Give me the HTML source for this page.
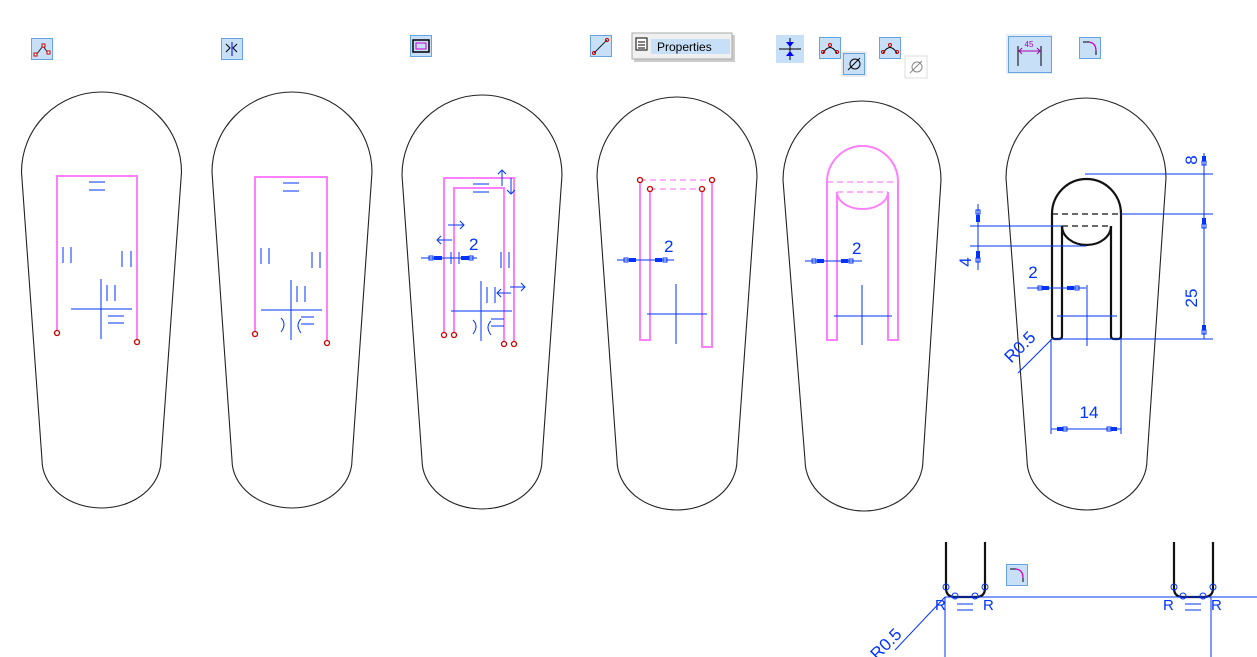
<!DOCTYPE html>
<html><head><meta charset="utf-8"><style>
html,body{margin:0;padding:0;background:#fff;}
svg{display:block;font-family:"Liberation Sans",sans-serif;}
</style></head><body>
<svg width="1257" height="657" viewBox="0 0 1257 657" xmlns="http://www.w3.org/2000/svg">
<defs>
<g id="ic"><rect x="0.5" y="0.5" width="21" height="21" fill="#c7e0f7" stroke="#66a3e0"/></g>
</defs>
<!-- toolbar icons -->
<use href="#ic" x="31" y="38"/>
<polyline points="36,55 43,46 48,53" fill="none" stroke="#222" stroke-width="1"/>
<rect x="34" y="53" width="3" height="3" fill="#fff" stroke="#c00"/><rect x="42" y="44" width="3" height="3" fill="#fff" stroke="#c00"/><rect x="47" y="51" width="3" height="3" fill="#fff" stroke="#c00"/>
<use href="#ic" x="221" y="38"/>
<path d="M226,44 l4,4 -4,4 M237,44 l-4,4 4,4" fill="none" stroke="#000"/><line x1="232" y1="42" x2="232" y2="56" stroke="#00f"/>
<use href="#ic" x="410" y="35"/>
<rect x="413" y="40" width="16" height="12" fill="none" stroke="#000" stroke-width="1.5"/><rect x="416" y="43" width="10" height="6" fill="none" stroke="#c0c"/>
<use href="#ic" x="590" y="35"/>
<line x1="594" y1="53" x2="607" y2="40" stroke="#222"/><circle cx="594" cy="53" r="1.5" fill="none" stroke="#c00"/><circle cx="607" cy="40" r="1.5" fill="none" stroke="#c00"/>
<rect x="634" y="35" width="101" height="27" fill="#999" opacity="0.5"/>
<rect x="632" y="33" width="100" height="26" fill="#f0f0f0" stroke="#aaa"/>
<rect x="651" y="39" width="79" height="15" fill="#c7e0f7"/>
<rect x="636" y="38" width="11" height="12" fill="#fff" stroke="#000"/><path d="M638,42h7M638,45h7M638,48h7" stroke="#000"/>
<text x="657" y="51" font-size="12" fill="#000">Properties</text>
<rect x="776" y="35" width="28" height="28" fill="#c7e0f7"/>
<path d="M779,49h22M790,38v22" stroke="#000" stroke-width="1"/><path d="M786,42l4,5 4,-5zM786,56l4,-5 4,5z" fill="#00f"/>
<use href="#ic" x="819" y="37"/>
<path d="M823,53 q7,-11 14,0" fill="none" stroke="#000"/><circle cx="823" cy="52" r="1.5" fill="none" stroke="#c00"/><circle cx="830" cy="45" r="1.5" fill="none" stroke="#c00"/><circle cx="837" cy="52" r="1.5" fill="none" stroke="#c00"/>
<rect x="842" y="52" width="24" height="24" fill="#eee" stroke="#ddd"/>
<use href="#ic" x="843" y="53"/>
<circle cx="855" cy="64" r="5" fill="none" stroke="#000"/><line x1="848" y1="70" x2="860" y2="58" stroke="#000"/>
<use href="#ic" x="879" y="37"/>
<path d="M883,53 q7,-11 14,0" fill="none" stroke="#000"/><circle cx="883" cy="52" r="1.5" fill="none" stroke="#c00"/><circle cx="890" cy="45" r="1.5" fill="none" stroke="#c00"/><circle cx="897" cy="52" r="1.5" fill="none" stroke="#c00"/>
<rect x="905" y="56" width="22" height="22" fill="#fff" stroke="#ddd"/>
<circle cx="917" cy="67" r="5" fill="none" stroke="#888"/><line x1="910" y1="73" x2="922" y2="61" stroke="#888"/>
<rect x="1006" y="34" width="46" height="40" fill="#e8eef5"/>
<rect x="1008.5" y="36.5" width="43" height="36" fill="#c7e0f7" stroke="#66a3e0"/>
<path d="M1018,46v20M1041,46v20" stroke="#000"/><path d="M1019,51h21" stroke="#a0a"/><path d="M1022,48l-3,3 3,3M1037,48l3,3 -3,3" fill="none" stroke="#a0a"/>
<text x="1029" y="47" font-size="8" fill="#a0a" text-anchor="middle">45</text>
<use href="#ic" x="1079" y="37"/>
<path d="M1083,42h6" stroke="#000"/><path d="M1089,42 q7,1 7,9" fill="none" stroke="#c0c" stroke-width="1.3"/><path d="M1096,51v4" stroke="#000"/>

<!-- teardrops -->
<g fill="none" stroke="#222" stroke-width="1.1">
<path d="M21.5,172 A80,80 0 0 1 181.5,172 L161,460 A59.5,48 0 0 1 42,460 Z"/>
<path d="M212,172 A80,80 0 0 1 372,172 L352,460 A60,48 0 0 1 232,460 Z"/>
<path d="M402,175 A80,80 0 0 1 562,175 L542,460 A60,49 0 0 1 422,460 Z"/>
<path d="M597,177 A80,80 0 0 1 757,177 L737,460 A60,50 0 0 1 617,460 Z"/>
<path d="M783,180 A79,79 0 0 1 941,180 L923,460 A59,51 0 0 1 805,460 Z"/>
<path d="M1006,178 A80,80 0 0 1 1166,178 L1147,460 A60,50 0 0 1 1027,460 Z"/>
</g>

<!-- shape 1 -->
<polyline points="57,333 57,176 137,176 137,342" fill="none" stroke="#ff80ff" stroke-width="2"/>
<g fill="#fff" stroke="#c00" stroke-width="1.3"><circle cx="57" cy="333" r="2.5"/><circle cx="137" cy="342" r="2.5"/></g>
<g stroke="#0033ff" stroke-width="1" fill="none">
<path d="M89,182h16M89,190h16"/>
<path d="M63,247v16M71,247v16"/><path d="M122,251v16M131,251v16"/>
<path d="M101,279v60M71,309h61"/>
<path d="M107,285v16M115,285v16"/>
<path d="M108,316h16M108,323h16"/>
</g>
<!-- shape 2 -->
<polyline points="255,334 255,177 327,177 327,343" fill="none" stroke="#ff80ff" stroke-width="2"/>
<g fill="#fff" stroke="#c00" stroke-width="1.3"><circle cx="255" cy="334" r="2.5"/><circle cx="327" cy="343" r="2.5"/></g>
<g stroke="#0033ff" stroke-width="1" fill="none">
<path d="M283,183h16M283,191h16"/>
<path d="M261,248v16M269,248v16"/><path d="M312,252v16M320,252v16"/>
<path d="M291,280v60M261,310h61"/>
<path d="M297,286v16M305,286v16"/>
<path d="M281,318q6,6 0,14M301,319q-6,6 0,14M301,317h13M301,324h13"/>
</g>
<!-- shape 3 -->
<g fill="none" stroke="#ff80ff" stroke-width="2">
<polyline points="444,335 444,178 514,178 514,344"/>
<polyline points="454,335 454,188 504,188 504,344"/>
</g>
<g fill="#fff" stroke="#c00" stroke-width="1.3"><circle cx="444" cy="335" r="2.5"/><circle cx="454" cy="335" r="2.5"/><circle cx="504" cy="344" r="2.5"/><circle cx="514" cy="344" r="2.5"/></g>
<g stroke="#0033ff" stroke-width="1" fill="none">
<path d="M473,184h16M473,192h16"/>
<path d="M502,170v16M498,174l4,-4 4,4M511,178v16M507,190l4,4 4,-4"/>
<path d="M448,225h16M460,221l4,4 -4,4"/>
<path d="M437,240h15M441,236l-4,4 4,4"/>
<path d="M421,258h56"/>
<path d="M451,252v12M459,252v12"/>
<path d="M501,252v16M509,252v16"/>
<path d="M481,281v60M451,311h61"/>
<path d="M487,287v16M495,287v16"/>
<path d="M497,293h14M501,289l-4,4 4,4M510,287h15M521,283l4,4 -4,4"/>
<path d="M473,320q6,6 0,14M491,321q-6,6 0,14M491,319h13M491,326h13"/>
</g>
<g fill="#0033ff"><rect x="434" y="256" width="8" height="4"/><rect x="461" y="256" width="8" height="4"/></g>
<g fill="none" stroke="#0033ff"><rect x="429" y="256" width="4" height="4"/><rect x="469" y="256" width="4" height="4"/></g>
<text x="469" y="250" font-size="17" fill="#0033ff">2</text>
<!-- shape 4 -->
<g fill="none" stroke="#ff80ff" stroke-width="2">
<polyline points="640,180 640,340 650,340 650,189"/>
<polyline points="702,189 702,347 712,347 712,180"/>
<path d="M640,180H712M650,189H702" stroke-width="1.2" stroke-dasharray="6,4"/>
</g>
<g fill="#fff" stroke="#c00" stroke-width="1.3"><circle cx="640" cy="180" r="2.5"/><circle cx="712" cy="180" r="2.5"/><circle cx="650" cy="189" r="2.5"/><circle cx="702" cy="189" r="2.5"/></g>
<g stroke="#0033ff" stroke-width="1" fill="none"><path d="M617,260h57M676,284v60M647,314h60"/><rect x="624" y="258" width="4" height="4"/><rect x="663" y="258" width="4" height="4"/></g>
<g fill="#0033ff"><rect x="629" y="258" width="7" height="4"/><rect x="655" y="258" width="7" height="4"/></g>
<text x="664" y="252" font-size="17" fill="#0033ff">2</text>
<!-- shape 5 -->
<g fill="none" stroke="#ff80ff" stroke-width="2">
<path d="M827,182 A35.5,36 0 0 1 898,182 V340 H888 V192 M827,182 V340 H837 V192"/>
<path d="M837,192 A25.5,17 0 0 0 888,192" />
<path d="M827,182H898M837,192H888" stroke-width="1.2" stroke-dasharray="6,4"/>
</g>
<g stroke="#0033ff" stroke-width="1" fill="none"><path d="M805,261h57M862,285v60M834,316h58"/><rect x="812" y="259" width="4" height="4"/><rect x="849" y="259" width="4" height="4"/></g>
<g fill="#0033ff"><rect x="817" y="259" width="7" height="4"/><rect x="841" y="259" width="7" height="4"/></g>
<text x="852" y="254" font-size="17" fill="#0033ff">2</text>
<!-- shape 6 -->
<g fill="none" stroke="#111" stroke-width="2.2">
<path d="M1052,214 A34.5,35 0 0 1 1121,214 V336 Q1121,339 1118,339 H1114 Q1111,339 1111,336 V226 M1052,214 V336 Q1052,339 1055,339 H1059 Q1062,339 1062,336 V226"/>
<path d="M1062,226 A24.5,19 0 0 0 1111,226"/>
<path d="M1052,214H1121M1062,226H1111" stroke-width="1.2" stroke-dasharray="6,4"/>
</g>
<g stroke="#0033ff" stroke-width="1" fill="none">
<path d="M1085,174H1213M1121,214H1213M1121,339H1213M1052,339H1121"/>
<path d="M1204,153V339"/>
<path d="M970,226H1062M970,246H1086M978,204V270"/>
<path d="M1027,288H1086M1087,285V346M1057,316H1117"/>
<path d="M1051,339V434M1121,339V434M1051,429H1121"/>
<path d="M1018,373L1052,339"/>
<rect x="1202" y="161" width="4" height="4"/><rect x="1202" y="224" width="4" height="4"/><rect x="1202" y="330" width="4" height="4"/>
<rect x="976" y="210" width="4" height="4"/><rect x="976" y="258" width="4" height="4"/>
<rect x="1038" y="286" width="4" height="4"/><rect x="1075" y="286" width="4" height="4"/>
<rect x="1063" y="427" width="4" height="4"/><rect x="1107" y="427" width="4" height="4"/>
</g>
<g fill="#0033ff">
<rect x="1202" y="156" width="4" height="5"/><rect x="1202" y="218" width="4" height="6"/><rect x="1202" y="325" width="4" height="5"/>
<rect x="976" y="215" width="4" height="7"/><rect x="976" y="251" width="4" height="7"/>
<rect x="1042" y="286" width="7" height="4"/><rect x="1067" y="286" width="7" height="4"/>
<rect x="1057" y="427" width="6" height="4"/><rect x="1111" y="427" width="6" height="4"/>
</g>
<g fill="#0033ff" font-size="17">
<text x="1033" y="278" text-anchor="middle">2</text>
<text x="1089" y="418" text-anchor="middle">14</text>
<text transform="translate(1197,160) rotate(-90)" text-anchor="middle">8</text>
<text transform="translate(1197,298) rotate(-90)" text-anchor="middle">25</text>
<text transform="translate(971,262) rotate(-90)" text-anchor="middle">4</text>
<text transform="translate(1024,351) rotate(-45)" text-anchor="middle">R0.5</text>
</g>

<!-- bottom detail -->
<g fill="none" stroke="#111" stroke-width="2.2">
<path d="M946,542V588 Q946,597 955,597 H976 Q985,597 985,588 V542"/>
<path d="M1174,542V588 Q1174,597 1183,597 H1204 Q1213,597 1213,588 V542"/>
</g>
<g stroke="#0033ff" stroke-width="1" fill="none">
<path d="M945,597H1257M945,597V657M1211,597V657M945,597L895,650"/>
<circle cx="946" cy="587" r="3"/><circle cx="985" cy="587" r="3"/><circle cx="955" cy="596" r="3"/><circle cx="975" cy="596" r="3"/>
<circle cx="1174" cy="587" r="3"/><circle cx="1213" cy="587" r="3"/><circle cx="1183" cy="596" r="3"/><circle cx="1203" cy="596" r="3"/>
<path d="M957,604h16M957,610h16M1185,604h16M1185,610h16"/>
</g>
<g fill="#0033ff" font-size="15">
<text x="935" y="610">R</text><text x="983" y="610">R</text>
<text x="1163" y="610">R</text><text x="1211" y="610">R</text>
<text transform="translate(890,648) rotate(-45)" text-anchor="middle" font-size="17">R0.5</text>
</g>
<use href="#ic" x="1006" y="564"/>
<path d="M1010,569h6" stroke="#000"/><path d="M1016,569 q7,1 7,9" fill="none" stroke="#c0c" stroke-width="1.3"/><path d="M1023,578v4" stroke="#000"/>
</svg>
</body></html>
